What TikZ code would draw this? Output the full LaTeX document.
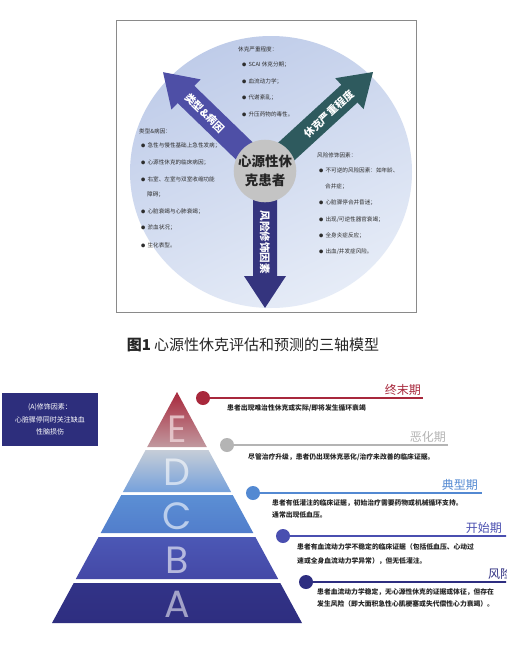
\documentclass[tikz,border=0pt]{standalone}
\usepackage{fontspec}
\setmainfont{Noto Sans CJK SC}
\newfontfamily\letterfont{Poppins}
\definecolor{framec}{HTML}{8A8A8A}
\definecolor{bgA}{HTML}{BFCCE9}
\definecolor{bgB}{HTML}{E6ECF7}
\definecolor{arrUL}{HTML}{4E4FA6}
\definecolor{arrUR}{HTML}{2E5A5E}
\definecolor{arrD}{HTML}{34347E}
\definecolor{coreg}{HTML}{C4C4C4}
\definecolor{txt}{HTML}{2E2E2E}
\definecolor{cE}{HTML}{A8283C}
\definecolor{cD}{HTML}{B4B4B4}
\definecolor{cC}{HTML}{5389D2}
\definecolor{cB}{HTML}{4A4FB0}
\definecolor{cA}{HTML}{2E2E80}
\definecolor{boxc}{HTML}{2D2E7C}
\newcommand\bul{{\fontsize{4.2}{4.2}\selectfont ●}\hspace{2.2pt}}
\tikzset{
  listtxt/.style={anchor=west, inner sep=0pt, text=txt, font=\fontsize{5.6}{5.6}\selectfont},
  arrlab/.style={text=white, inner sep=0pt, font=\bfseries\fontsize{10.5}{10.5}\selectfont},
  stagetxt/.style={anchor=west, inner sep=0pt, text=black!85, font=\bfseries\fontsize{6.8}{6.8}\selectfont},
  stagelab/.style={anchor=east, inner sep=0pt, font=\fontsize{12}{12}\selectfont},
  letter/.style={inner sep=0pt, font=\letterfont\fontsize{38}{38}\selectfont},
  stageline/.style={line width=2.6pt},
}
\newcommand\bigarrow[3]{%
  \begin{scope}[shift={(265,171)},rotate=#2]
    \fill[#1] (0,-12) -- ({#3-32},-12) -- ({#3-32},-21) -- (#3,0) -- ({#3-32},21) -- ({#3-32},12) -- (0,12) -- cycle;
  \end{scope}}
\begin{document}
\begin{tikzpicture}[x=1pt,y=-1pt]
\useasboundingbox[fill=white] (0,0) rectangle (506,645);
\clip (0,0) rectangle (506,645);
% ---------- Figure 1 ----------
\draw[framec, line width=0.8pt] (116,20) rectangle (416,312);
\shade[top color=bgA, bottom color=bgB, shading angle=25] (271,172) ellipse [x radius=141pt, y radius=136pt];
\bigarrow{arrUL}{135.9}{142}
\bigarrow{arrUR}{42.5}{146.5}
\bigarrow{arrD}{-90}{137}
\node[circle, fill=coreg, minimum size=62pt, inner sep=0pt, align=center, text=black!85,
      font=\bfseries\fontsize{13.5}{19}\selectfont] (core) at (265,171) {心源性休\\克患者};
\node[arrlab, rotate=-44.1] (labUL) at (205,113) {类型\&病因};
\node[arrlab, rotate=42.5] (labUR) at (329,114) {休克严重程度};
\node[arrlab, rotate=-90] (labD) at (265,242) {风险修饰因素};
% top list
\node[listtxt] (t0) at (238,49) {休克严重程度：};
\node[listtxt] (t1) at (242,65) {\bul SCAI 休克分期；};
\node[listtxt] (t2) at (242,82) {\bul 血流动力学；};
\node[listtxt] (t3) at (242,98) {\bul 代谢紊乱；};
\node[listtxt] (t4) at (242,114) {\bul 升压药物的毒性。};
% left list
\node[listtxt] (l0) at (139,131) {类型\&病因：};
\node[listtxt] (l1) at (141,146) {\bul 急性与慢性基础上急性发病；};
\node[listtxt] (l2) at (141,163) {\bul 心源性休克的临床病因；};
\node[listtxt] (l3) at (141,179) {\bul 右室、左室与双室收缩功能};
\node[listtxt] (l3b) at (147,195) {障碍；};
\node[listtxt] (l4) at (141,212) {\bul 心脏衰竭与心肺衰竭；};
\node[listtxt] (l5) at (141,228) {\bul 淤血状况；};
\node[listtxt] (l6) at (141,245) {\bul 生化表型。};
% right list
\node[listtxt] (r0) at (317,155) {风险修饰因素：};
\node[listtxt] (r1) at (319,170) {\bul 不可逆的风险因素：如年龄、};
\node[listtxt] (r1b) at (325,187) {合并症；};
\node[listtxt] (r2) at (319,203) {\bul 心脏骤停合并昏迷；};
\node[listtxt] (r3) at (319,220) {\bul 出现/可逆性器官衰竭；};
\node[listtxt] (r4) at (319,236) {\bul 全身炎症反应；};
\node[listtxt] (r5) at (319,252) {\bul 出血/并发症风险。};
% caption
\node[inner sep=0pt, text=black!85, font=\fontsize{15}{15}\selectfont] (cap) at (253,345) {\textbf{图1} 心源性休克评估和预测的三轴模型};
% ---------- Pyramid ----------
\shade[top color=cE, bottom color={cE!35!coreg!90!white}] (177,392) -- (206.8,447) -- (147.2,447) -- cycle;
\shade[top color={coreg!80!cC!70!white}, bottom color={cC!80!white}] (145.6,450) -- (208.4,450) -- (231.1,492) -- (122.9,492) -- cycle;
\shade[top color={cC!95!white}, bottom color={cC!80!cB}] (121.3,495) -- (232.7,495) -- (253.3,533) -- (100.7,533) -- cycle;
\shade[top color={cB!85!cC}, bottom color={cB!80!cA}] (98.6,537) -- (255.4,537) -- (278.2,579) -- (75.8,579) -- cycle;
\shade[top color={cA!85!cB}, bottom color=cA] (73.7,583) -- (280.3,583) -- (302,623) -- (52,623) -- cycle;
\node[letter, text={white!80!cE}, opacity=0.8] (lE) at (177,429) {E};
\node[letter, text=white, opacity=0.6] (lD) at (177,472) {D};
\node[letter, text=white, opacity=0.6] (lC) at (177,516) {C};
\node[letter, text=white, opacity=0.6] (lB) at (177,560) {B};
\node[letter, text=white, opacity=0.55] (lA) at (177,604) {A};
% stage lines
\fill[cE] (203,398) circle[radius=7pt] coordinate (dE);
\coordinate (eE) at (423,398);
\draw[stageline, cE] (dE) -- (eE);
\node[stagelab, text=cE] (sE) at (421,390) {终末期};
\node[stagetxt] (xE) at (227,408) {患者出现难治性休克或实际/即将发生循环衰竭};

\fill[cD] (227,445) circle[radius=7pt] coordinate (dD);
\coordinate (eD) at (448,445);
\draw[stageline, cD] (dD) -- (eD);
\node[stagelab, text=cD] (sD) at (446,437) {恶化期};
\node[stagetxt] (xD) at (248,457) {尽管治疗升级，患者仍出现休克恶化/治疗未改善的临床证据。};

\fill[cC] (253,493) circle[radius=7pt] coordinate (dC);
\coordinate (eC) at (482,493);
\draw[stageline, cC] (dC) -- (eC);
\node[stagelab, text=cC] (sC) at (478,485) {典型期};
\node[stagetxt] (xC) at (272,503) {患者有低灌注的临床证据，初始治疗需要药物或机械循环支持。};
\node[stagetxt] (xC2) at (272,515) {通常出现低血压。};

\fill[cB] (283,536) circle[radius=7pt] coordinate (dB);
\coordinate (eB) at (510,536);
\draw[stageline, cB] (dB) -- (eB);
\node[stagelab, text=cB] (sB) at (502,528) {开始期};
\node[stagetxt] (xB) at (297,547) {患者有血流动力学不稳定的临床证据（包括低血压、心动过};
\node[stagetxt] (xB2) at (297,561) {速或全身血流动力学异常），但无低灌注。};

\fill[cA] (306,582) circle[radius=7pt] coordinate (dA);
\coordinate (eA) at (510,582);
\draw[stageline, cA] (dA) -- (eA);
\node[stagelab, anchor=west, text=cA] (sA) at (488,574) {风险期};
\node[stagetxt] (xA) at (317,592) {患者血流动力学稳定，无心源性休克的证据或体征，但存在};
\node[stagetxt] (xA2) at (317,604) {发生风险（即大面积急性心肌梗塞或失代偿性心力衰竭）。};
% left box
\node[fill=boxc, minimum width=96pt, minimum height=53pt, inner sep=0pt, align=center, text=white,
      font=\fontsize{7}{12.5}\selectfont] (box) at (50,419.5) {(A)修饰因素：\\心脏骤停同时关注缺血\\性脑损伤};
\end{tikzpicture}
\end{document}
